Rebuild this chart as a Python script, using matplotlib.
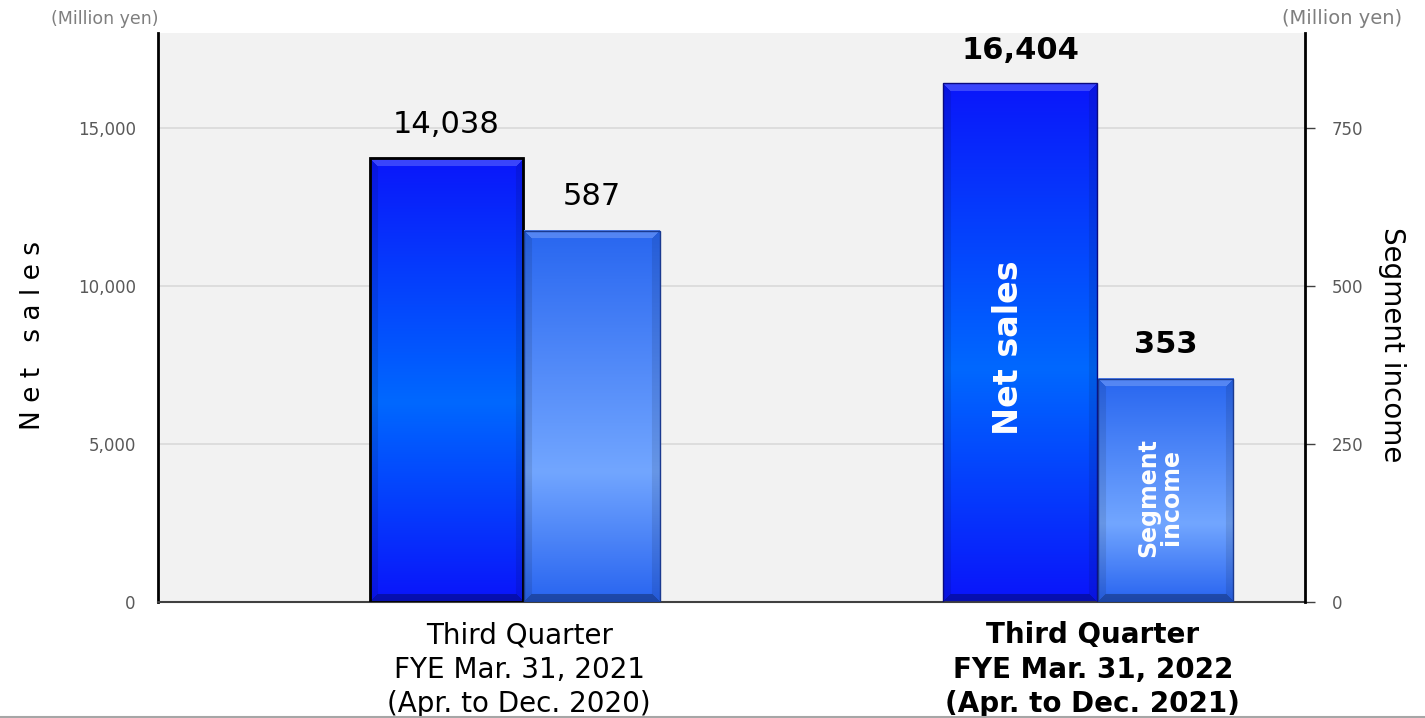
import numpy as np
import matplotlib
matplotlib.use('Agg')
import matplotlib.pyplot as plt
from matplotlib.colors import to_rgb
from matplotlib.lines import Line2D
from matplotlib.patches import Rectangle

periods = ['Third Quarter\nFYE Mar. 31, 2021\n(Apr. to Dec. 2020)',
           'Third Quarter\nFYE Mar. 31, 2022\n(Apr. to Dec. 2021)']
net_sales = [14038, 16404]
segment_income = [587, 353]
sales_ticks = [0, 5000, 10000, 15000]
income_ticks = [0, 250, 500, 750]

FIG_W, FIG_H = 1425, 718
LEFT, RIGHT, BOTTOM, TOP = 158 / FIG_W, 1305 / FIG_W, 1 - 602 / FIG_H, 1 - 33 / FIG_H
SALES_MAX, INCOME_MAX = 18000, 900

SALES_STOPS = [(0.0, '#0a16fa'), (0.55, '#0068ff'), (1.0, '#0a14fa')]
INCOME_STOPS = [(0.0, '#2866f0'), (0.65, '#72a6ff'), (1.0, '#2864f0')]


def bar_image(h_px, w_px, stops, bevel=8):
    rows, cols = max(int(h_px), 2 * bevel + 2), max(int(w_px), 2 * bevel + 2)
    t = np.linspace(0, 1, rows)
    pos = [s[0] for s in stops]
    cols_rgb = np.array([to_rgb(s[1]) for s in stops])
    base = np.stack([np.interp(t, pos, cols_rgb[:, k]) for k in range(3)], axis=1)
    img = np.repeat(base[:, None, :], cols, axis=1)
    r = np.arange(rows)[:, None]
    c = np.arange(cols)[None, :]
    dist_top, dist_bot = r, rows - 1 - r
    dist_l, dist_r = c, cols - 1 - c
    m = np.minimum(np.minimum(dist_top, dist_bot), np.minimum(dist_l, dist_r))
    edge = m < bevel
    top = edge & (dist_top == m)
    bot = edge & (dist_bot == m) & ~top
    side = edge & ~top & ~bot
    img[top] = img[top] * 0.8 + 0.2
    img[bot] = img[bot] * 0.7
    img[side] = img[side] * 0.9
    return img


def gradient_bars(ax, xs, heights, width, ymax, stops, edgecolor, lw):
    ax_w_px = (RIGHT - LEFT) * FIG_W
    ax_h_px = (TOP - BOTTOM) * FIG_H
    x_span = ax.get_xlim()[1] - ax.get_xlim()[0]
    for x, h in zip(xs, heights):
        img = bar_image(h / ymax * ax_h_px, width / x_span * ax_w_px, stops)
        ax.imshow(img, extent=(x - width / 2, x + width / 2, 0, h), aspect='auto',
                  interpolation='bilinear', zorder=2)
        ax.add_patch(Rectangle((x - width / 2, 0), width, h, fill=False,
                               edgecolor=edgecolor, lw=lw, zorder=3))


fig = plt.figure(figsize=(FIG_W / 100, FIG_H / 100), dpi=100)
ax = fig.add_axes([LEFT, BOTTOM, RIGHT - LEFT, TOP - BOTTOM])
ax2 = ax.twinx()

x = np.arange(len(periods))
offset, w_sales, w_income = 0.127, 0.267, 0.236

for a in (ax, ax2):
    a.set_xlim(-0.63, 1.37)
ax.set_ylim(0, SALES_MAX)
ax2.set_ylim(0, INCOME_MAX)

ax.set_facecolor('#f2f2f2')
ax2.patch.set_visible(False)
ax.set_axisbelow(True)
ax.yaxis.grid(True, color='#d9d9d9', lw=1.2)

gradient_bars(ax, x - offset, net_sales, w_sales, SALES_MAX, SALES_STOPS, '#0a0a80', 1)
gradient_bars(ax2, x + offset, segment_income, w_income, INCOME_MAX, INCOME_STOPS, '#1a3a90', 1)
# first net sales bar is outlined in black
ax.add_patch(Rectangle((x[0] - offset - w_sales / 2, 0), w_sales, net_sales[0], fill=False,
                       edgecolor='black', lw=2, zorder=4))
ax.set_xlim(-0.63, 1.37)
ax2.set_xlim(-0.63, 1.37)
ax.set_ylim(0, SALES_MAX)
ax2.set_ylim(0, INCOME_MAX)

# value labels
for i, (s, inc) in enumerate(zip(net_sales, segment_income)):
    weight = 'bold' if i == 1 else 'normal'
    ax.annotate('{:,}'.format(s), (x[i] - offset, s), xytext=(0, 24), textcoords='offset points',
                ha='center', va='center', fontsize=22, fontweight=weight)
    ax2.annotate('{:,}'.format(inc), (x[i] + offset, inc), xytext=(0, 25), textcoords='offset points',
                 ha='center', va='center', fontsize=22, fontweight=weight)

# in-bar series labels
ax.text(x[1] - offset - 0.02, net_sales[1] * 0.49, 'Net sales', rotation=90, color='white',
        fontsize=24, fontweight='bold', ha='center', va='center', zorder=5)
ax2.text(x[1] + offset - 0.01, segment_income[1] * 0.47, 'Segment\nincome', rotation=90, color='white',
         fontsize=17, fontweight='bold', ha='center', va='center', linespacing=0.95, zorder=5)

# axes styling
ax.set_yticks(sales_ticks)
ax.set_yticklabels(['{:,}'.format(v) for v in sales_ticks])
ax2.set_yticks(income_ticks)
ax.tick_params(axis='y', length=0, pad=16, labelsize=12, labelcolor='#595959')
ax2.tick_params(axis='y', length=7, width=1, color='#404040', pad=12, labelsize=12, labelcolor='#595959')
ax.set_xticks(x)
ax.set_xticklabels(periods, fontsize=20, linespacing=1.28)
ax.tick_params(axis='x', length=0, pad=14)
for lbl, wgt in zip(ax.get_xticklabels(), ['normal', 'bold']):
    lbl.set_fontweight(wgt)
ax2.tick_params(axis='x', length=0)

for a in (ax, ax2):
    a.spines['top'].set_visible(False)
ax.spines['left'].set_color('black')
ax.spines['left'].set_linewidth(2)
ax2.spines['left'].set_visible(False)
ax2.spines['right'].set_color('black')
ax2.spines['right'].set_linewidth(2)
ax.spines['right'].set_visible(False)
ax.spines['bottom'].set_color('#404040')
ax.spines['bottom'].set_linewidth(1.5)
ax2.spines['bottom'].set_visible(False)

fig.text(105 / FIG_W, 1 - 19 / FIG_H, '(Million yen)', fontsize=12.5, color='#7f7f7f',
         ha='center', va='center')
fig.text(1342 / FIG_W, 1 - 18 / FIG_H, '(Million yen)', fontsize=14, color='#7f7f7f',
         ha='center', va='center')
fig.text(33 / FIG_W, 1 - 335 / FIG_H, 'N e t   s a l e s', rotation=90, fontsize=19,
         ha='center', va='center')
fig.text(1392 / FIG_W, 1 - 345 / FIG_H, 'Segment income', rotation=270, fontsize=20,
         ha='center', va='center')
fig.add_artist(Line2D([0, 1], [1.5 / FIG_H, 1.5 / FIG_H], color='#a6a6a6', lw=1.5))

fig.savefig('out.png', dpi=100)
